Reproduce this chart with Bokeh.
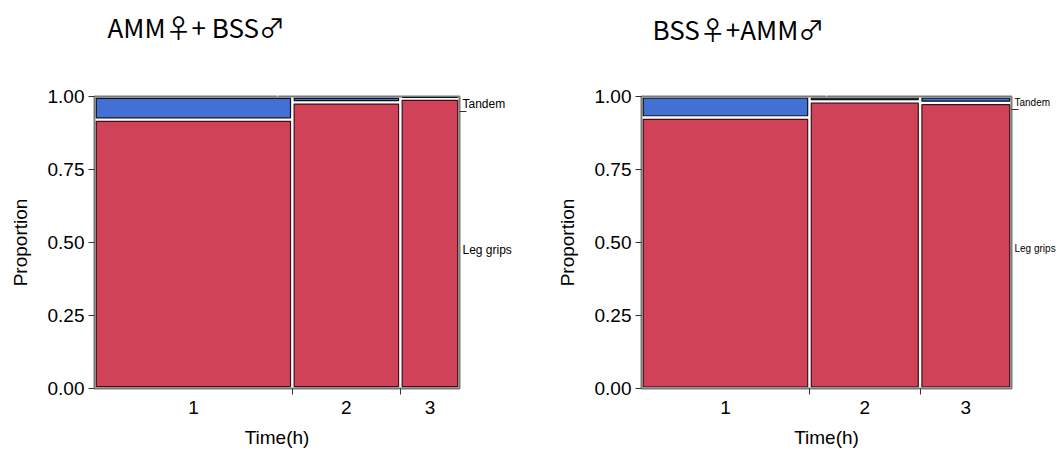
from bokeh.plotting import figure
from bokeh.layouts import row
from bokeh.models import Range1d, FixedTicker, NumeralTickFormatter, LinearAxis, ColumnDataSource
from bokeh.embed import file_html
from bokeh.resources import INLINE

# ---- data ----
times = ["1", "2", "3"]
responses = ["Leg grips", "Tandem"]
left_title = "AMM\u2640+ BSS\u2642"
right_title = "BSS\u2640+AMM\u2642"
left_time_share = [0.542, 0.296, 0.162]      # column widths (share of observations)
left_tandem = [0.079, 0.020, 0.007]          # proportion Tandem within each time
right_time_share = [0.454, 0.299, 0.247]
right_tandem = [0.072, 0.017, 0.022]
y_ticks = [0.0, 0.25, 0.50, 0.75, 1.0]

BLUE = "#4370D6"
RED = "#D04258"
BLUE_EDGE = "#111111"
RED_EDGE = "#3d0f18"
FONT = "Liberation Sans"
TITLE_FONT = "Noto Sans CJK JP"


def make_panel(title, shares, tandem, width, height, bl, br, bt, bb,
               side_font, title_offset, spacer):
    fw = width - bl - br
    fh = height - bt - bb
    gx = 1.8 / fw
    gy = 1.8 / fh
    p = figure(width=width, height=height, x_range=Range1d(0, 1), y_range=Range1d(0, 1),
               output_backend="svg", toolbar_location=None, tools="",
               min_border_left=bl, min_border_right=br, min_border_top=bt, min_border_bottom=bb,
               x_axis_location="below", y_axis_location="left")
    p.xgrid.visible = False
    p.ygrid.visible = False
    p.outline_line_color = "#7a7a7a"
    p.outline_line_width = 2
    p.background_fill_color = "white"
    p.border_fill_color = "white"

    total = float(sum(shares))
    lefts, rights = [], []
    c = 0.0
    for s in shares:
        lefts.append(c / total)
        c += s
        rights.append(c / total)
    centers = [round((a + b) / 2, 6) for a, b in zip(lefts, rights)]
    bounds = [round(r, 6) for r in rights[:-1]]

    L, R, B, T, F, E = [], [], [], [], [], []
    for i in range(len(times)):
        t = tandem[i]
        split = 1 - t
        L.append(lefts[i] + gx); R.append(rights[i] - gx)
        B.append(0 + gy); T.append(split - gy)
        F.append(RED); E.append(RED_EDGE)
        b = split + gy
        tp = 1 - gy
        if b > tp:
            b = tp = (split + 1) / 2
        L.append(lefts[i] + gx); R.append(rights[i] - gx)
        B.append(b); T.append(tp)
        F.append(BLUE); E.append(BLUE_EDGE)
    src = ColumnDataSource(dict(left=L, right=R, bottom=B, top=T, fill=F, edge=E))
    p.quad(left="left", right="right", bottom="bottom", top="top", source=src,
           fill_color="fill", line_color="edge", line_width=1.2)

    ya = p.left[0]
    ya.ticker = FixedTicker(ticks=y_ticks, minor_ticks=[])
    ya.formatter = NumeralTickFormatter(format="0.00")
    ya.axis_label = "Proportion"
    ya.axis_label_text_font = FONT
    ya.axis_label_text_font_size = "19px"
    ya.axis_label_text_font_style = "normal"
    ya.axis_label_text_color = "black"
    ya.axis_label_standoff = 14
    ya.major_label_text_font = FONT
    ya.major_label_text_font_size = "19px"
    ya.major_label_text_color = "black"
    ya.major_label_standoff = 4
    ya.axis_line_color = None
    ya.major_tick_out = 6
    ya.major_tick_in = 0
    ya.major_tick_line_color = "#333333"
    ya.minor_tick_line_color = None

    xa = p.below[0]
    xa.ticker = FixedTicker(ticks=centers, minor_ticks=bounds)
    xa.major_label_overrides = {c_: lab for c_, lab in zip(centers, times)}
    xa.axis_label = "Time(h)"
    xa.axis_label_text_font = FONT
    xa.axis_label_text_font_size = "19px"
    xa.axis_label_text_font_style = "normal"
    xa.axis_label_text_color = "black"
    xa.axis_label_standoff = 10
    xa.major_label_text_font = FONT
    xa.major_label_text_font_size = "19px"
    xa.major_label_text_color = "black"
    xa.major_label_standoff = 6
    xa.axis_line_color = None
    xa.major_tick_out = 0
    xa.major_tick_in = 0
    xa.minor_tick_out = 6
    xa.minor_tick_in = 0
    xa.minor_tick_line_color = "#333333"

    overall_tandem = sum(s * t for s, t in zip(shares, tandem)) / total
    split_all = round(1 - overall_tandem, 6)
    mid_leg = round(split_all / 2, 6)
    mid_tan = round((split_all + 1) / 2, 6)
    ra = LinearAxis(ticker=FixedTicker(ticks=[mid_leg, mid_tan], minor_ticks=[split_all]))
    ra.major_label_overrides = {mid_leg: responses[0], mid_tan: responses[1]}
    ra.major_label_text_font = FONT
    ra.major_label_text_font_size = side_font
    ra.major_label_text_color = "black"
    ra.major_label_standoff = -4
    ra.axis_line_color = None
    ra.major_tick_out = 0
    ra.major_tick_in = 0
    ra.minor_tick_out = 7
    ra.minor_tick_in = 0
    ra.minor_tick_line_color = "#333333"
    p.add_layout(ra, "right")

    # near-invisible axis above the frame: reserves space so the title sits higher
    sp = LinearAxis(ticker=FixedTicker(ticks=[0.5], minor_ticks=[]))
    sp.major_label_overrides = {0.5: ""}
    sp.axis_line_color = None
    sp.major_tick_line_color = "white"
    sp.minor_tick_line_color = None
    sp.major_label_text_font_size = "0px"
    sp.major_tick_out = spacer
    sp.major_tick_in = 0
    sp.major_label_standoff = 0
    p.add_layout(sp, "above")

    p.title.text = title
    p.title.text_font = TITLE_FONT
    p.title.text_font_size = "26px"
    p.title.text_font_style = "normal"
    p.title.text_color = "black"
    p.title.offset = title_offset
    p.title.standoff = 10
    return p


left = make_panel(left_title, left_time_share, left_tandem, 531, 455,
                  94, 72, 92, 67, "12px", 13, 47)
right = make_panel(right_title, right_time_share, right_tandem, 532, 455,
                   110, 52, 90, 65, "10px", 11, 45)

layout = row(left, right)
open("out.html", "w").write(file_html(layout, INLINE))
